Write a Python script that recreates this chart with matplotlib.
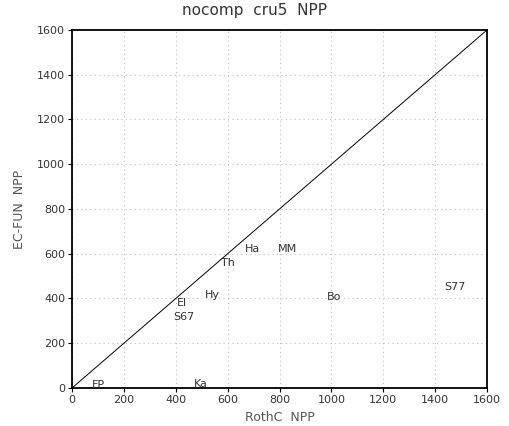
import matplotlib
matplotlib.use("Agg")
import matplotlib.pyplot as plt

# site labels and NPP values (RothC vs EC-FUN)
sites = ["FP", "Ka", "El", "S67", "Hy", "Th", "Ha", "MM", "Bo", "S77"]
rothc_npp = [100, 497, 424, 432, 540, 601, 694, 829, 1010, 1476]
ecfun_npp = [12, 18, 380, 317, 416, 559, 621, 621, 407, 451]

ticks = [0, 200, 400, 600, 800, 1000, 1200, 1400, 1600]

fig = plt.figure(figsize=(5.1, 4.26), dpi=100)
ax = fig.add_axes([0.1412, 0.0892, 0.8137, 0.8404])

ax.set_xlim(0, 1600)
ax.set_ylim(0, 1600)
ax.set_xticks(ticks)
ax.set_yticks(ticks)
ax.grid(True, color="#c0c0c0", linestyle=(0, (1, 3)), linewidth=0.8)

# 1:1 line
ax.plot([0, 1600], [0, 1600], color="black", linewidth=0.7)

for name, x, y in zip(sites, rothc_npp, ecfun_npp):
    ax.text(x, y, name, ha="center", va="center", fontsize=8, color="#333333")

for side in ax.spines.values():
    side.set_linestyle((0, (3, 1)))
    side.set_linewidth(1.3)

ax.tick_params(direction="out", length=3, width=0.8, labelsize=8,
               labelcolor="#333333", pad=2)
ax.set_xlabel("RothC  NPP", fontsize=9, color="#555555", labelpad=4)
ax.set_ylabel("EC-FUN  NPP", fontsize=9, color="#555555", labelpad=8)
# reference title is clipped at the top edge; keep it just inside
fig.text(0.5, 0.976, "nocomp  cru5  NPP", ha="center", va="center",
         fontsize=11, color="#333333")

fig.savefig("out.png", dpi=100)
